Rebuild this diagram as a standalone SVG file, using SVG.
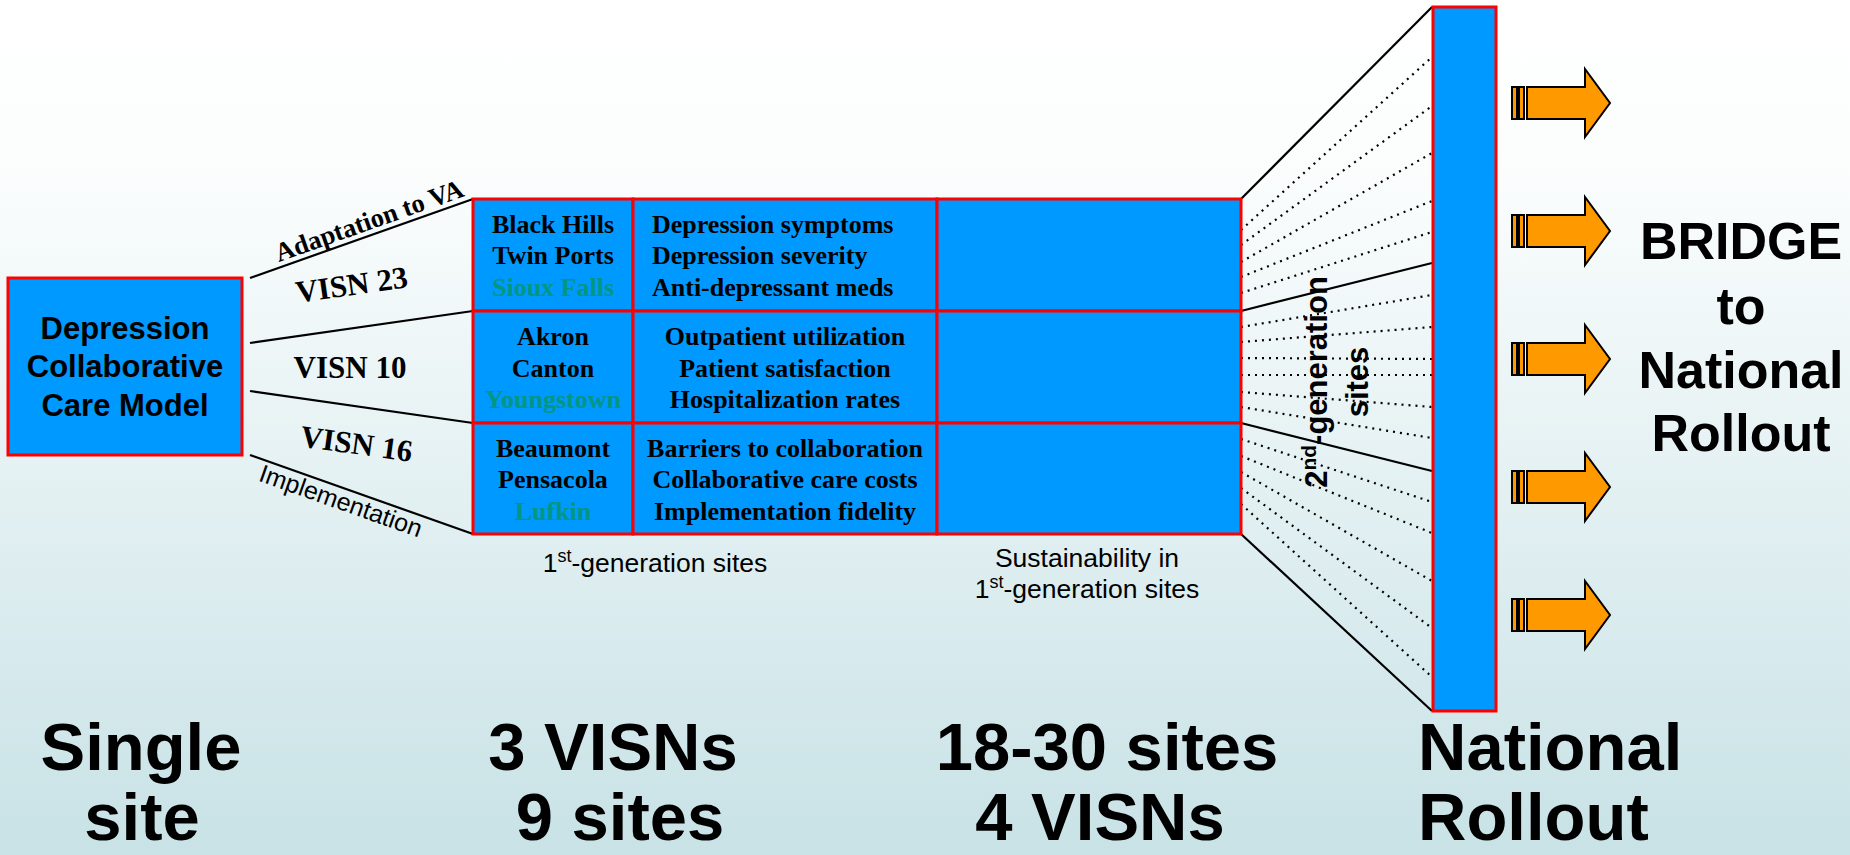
<svg xmlns="http://www.w3.org/2000/svg" width="1850" height="855" viewBox="0 0 1850 855">
<defs>
<linearGradient id="bg" x1="0" y1="0" x2="0" y2="1">
<stop offset="0" stop-color="#FFFFFF"/>
<stop offset="0.2" stop-color="#FBFDFD"/>
<stop offset="1" stop-color="#C8E2E6"/>
</linearGradient>
<style>
.box{fill:#0099FF;stroke:#FF0000;stroke-width:3}
.solid{stroke:#000;stroke-width:2.2;fill:none}
.dot{stroke:#000;stroke-width:2.2;fill:none;stroke-dasharray:2 5}
.tb{font-family:"Liberation Serif","Times New Roman",serif;font-weight:bold;fill:#000}
.cell{font-family:"Liberation Serif","Times New Roman",serif;font-weight:bold;font-size:26px;fill:#000}
.green{fill:#00967F}
.ab{font-family:"Liberation Sans",Arial,sans-serif;font-weight:bold;fill:#000}
.ar{font-family:"Liberation Sans",Arial,sans-serif;fill:#000}
.big{font-family:"Liberation Sans",Arial,sans-serif;font-weight:bold;font-size:67px;fill:#000}
.arr{fill:#FF9900;stroke:#000;stroke-width:2;stroke-linejoin:miter}
</style>
</defs>
<rect x="0" y="0" width="1850" height="855" fill="url(#bg)"/>

<g id="connectors">
<line class="solid" x1="250" y1="278" x2="473" y2="199"/>
<line class="solid" x1="250" y1="343" x2="473" y2="311"/>
<line class="solid" x1="250" y1="391" x2="473" y2="423"/>
<line class="solid" x1="250" y1="455" x2="473" y2="534"/>
<line class="solid" x1="1241" y1="199" x2="1432" y2="7"/>
<line class="solid" x1="1241" y1="311" x2="1432" y2="263"/>
<line class="solid" x1="1241" y1="423" x2="1432" y2="471"/>
<line class="solid" x1="1241" y1="534" x2="1432" y2="711"/>
<line class="dot" x1="1241" y1="230" x2="1432" y2="57"/>
<line class="dot" x1="1241" y1="245" x2="1432" y2="106"/>
<line class="dot" x1="1241" y1="262" x2="1432" y2="153"/>
<line class="dot" x1="1241" y1="277" x2="1432" y2="201"/>
<line class="dot" x1="1241" y1="293" x2="1432" y2="232"/>
<line class="dot" x1="1241" y1="327" x2="1432" y2="295"/>
<line class="dot" x1="1241" y1="342" x2="1432" y2="327"/>
<line class="dot" x1="1241" y1="358" x2="1432" y2="359"/>
<line class="dot" x1="1241" y1="375" x2="1432" y2="375"/>
<line class="dot" x1="1241" y1="392" x2="1432" y2="407"/>
<line class="dot" x1="1241" y1="407" x2="1432" y2="438"/>
<line class="dot" x1="1241" y1="439" x2="1432" y2="502"/>
<line class="dot" x1="1241" y1="456" x2="1432" y2="533"/>
<line class="dot" x1="1241" y1="472" x2="1432" y2="581"/>
<line class="dot" x1="1241" y1="488" x2="1432" y2="628"/>
<line class="dot" x1="1241" y1="504" x2="1432" y2="677"/>
</g>

<g id="connector-labels">
<text class="tb" font-size="26.5" text-anchor="middle" transform="translate(372,229) rotate(-19.5)">Adaptation to VA</text>
<text class="tb" font-size="31" text-anchor="middle" transform="translate(353,295) rotate(-8)">VISN 23</text>
<text class="tb" font-size="31" text-anchor="middle" x="350" y="378">VISN 10</text>
<text class="tb" font-size="31" text-anchor="middle" transform="translate(355,454) rotate(8)">VISN 16</text>
<text class="ar" font-size="25" text-anchor="middle" transform="translate(338,509) rotate(19.5)">Implementation</text>
</g>

<g id="model">
<rect class="box" x="8" y="278" width="234" height="177"/>
<text class="ab" font-size="31" text-anchor="middle"><tspan x="125" y="339">Depression</tspan><tspan x="125" y="377">Collaborative</tspan><tspan x="125" y="416">Care Model</tspan></text>
</g>

<g id="sites-visn23">
<rect class="box" x="473" y="199" width="160" height="112"/>
<text class="cell" text-anchor="middle"><tspan x="553" y="233">Black Hills</tspan><tspan x="553" y="264">Twin Ports</tspan><tspan class="green" x="553" y="296">Sioux Falls</tspan></text>
</g>
<g id="outcomes-visn23">
<rect class="box" x="633" y="199" width="304" height="112"/>
<text class="cell"><tspan x="652" y="233">Depression symptoms</tspan><tspan x="652" y="264">Depression severity</tspan><tspan x="652" y="296">Anti-depressant meds</tspan></text>
</g>
<g id="sustain-visn23"><rect class="box" x="937" y="199" width="304" height="112"/></g>

<g id="sites-visn10">
<rect class="box" x="473" y="311" width="160" height="112"/>
<text class="cell" text-anchor="middle"><tspan x="553" y="345">Akron</tspan><tspan x="553" y="377">Canton</tspan><tspan class="green" x="553" y="408">Youngstown</tspan></text>
</g>
<g id="outcomes-visn10">
<rect class="box" x="633" y="311" width="304" height="112"/>
<text class="cell" text-anchor="middle"><tspan x="785" y="345">Outpatient utilization</tspan><tspan x="785" y="377">Patient satisfaction</tspan><tspan x="785" y="408">Hospitalization rates</tspan></text>
</g>
<g id="sustain-visn10"><rect class="box" x="937" y="311" width="304" height="112"/></g>

<g id="sites-visn16">
<rect class="box" x="473" y="423" width="160" height="111"/>
<text class="cell" text-anchor="middle"><tspan x="553" y="457">Beaumont</tspan><tspan x="553" y="488">Pensacola</tspan><tspan class="green" x="553" y="520">Lufkin</tspan></text>
</g>
<g id="outcomes-visn16">
<rect class="box" x="633" y="423" width="304" height="111"/>
<text class="cell" text-anchor="middle"><tspan x="785" y="457">Barriers to collaboration</tspan><tspan x="785" y="488">Collaborative care costs</tspan><tspan x="785" y="520">Implementation fidelity</tspan></text>
</g>
<g id="sustain-visn16"><rect class="box" x="937" y="423" width="304" height="111"/></g>

<g id="labels-grid">
<text class="ar" font-size="26.5" text-anchor="middle" x="655" y="572">1<tspan font-size="18" dy="-10">st</tspan><tspan dy="10">-generation sites</tspan></text>
<text class="ar" font-size="26.5" text-anchor="middle" x="1087" y="567">Sustainability in</text>
<text class="ar" font-size="26.5" text-anchor="middle" x="1087" y="598">1<tspan font-size="18" dy="-10">st</tspan><tspan dy="10">-generation sites</tspan></text>
</g>

<g id="second-gen-label">
<text class="ab" font-size="31" text-anchor="middle" transform="translate(1327,382) rotate(-90)">2<tspan font-size="21" dy="-11">nd</tspan><tspan dy="11">-generation</tspan></text>
<text class="ab" font-size="31" text-anchor="middle" transform="translate(1368,382) rotate(-90)">sites</text>
</g>

<g id="national-bar">
<rect class="box" x="1433" y="7" width="63" height="704"/>
</g>

<g id="arrows">
<g id="arrow1" transform="translate(0,103)">
<rect class="arr" x="1512" y="-16" width="5" height="32"/><rect class="arr" x="1519" y="-16" width="5" height="32"/>
<polygon class="arr" points="1527,-16 1585,-16 1585,-34 1610,0 1585,34 1585,16 1527,16"/>
</g>
<g id="arrow2" transform="translate(0,231)">
<rect class="arr" x="1512" y="-16" width="5" height="32"/><rect class="arr" x="1519" y="-16" width="5" height="32"/>
<polygon class="arr" points="1527,-16 1585,-16 1585,-34 1610,0 1585,34 1585,16 1527,16"/>
</g>
<g id="arrow3" transform="translate(0,359)">
<rect class="arr" x="1512" y="-16" width="5" height="32"/><rect class="arr" x="1519" y="-16" width="5" height="32"/>
<polygon class="arr" points="1527,-16 1585,-16 1585,-34 1610,0 1585,34 1585,16 1527,16"/>
</g>
<g id="arrow4" transform="translate(0,487)">
<rect class="arr" x="1512" y="-16" width="5" height="32"/><rect class="arr" x="1519" y="-16" width="5" height="32"/>
<polygon class="arr" points="1527,-16 1585,-16 1585,-34 1610,0 1585,34 1585,16 1527,16"/>
</g>
<g id="arrow5" transform="translate(0,615)">
<rect class="arr" x="1512" y="-16" width="5" height="32"/><rect class="arr" x="1519" y="-16" width="5" height="32"/>
<polygon class="arr" points="1527,-16 1585,-16 1585,-34 1610,0 1585,34 1585,16 1527,16"/>
</g>
</g>

<g id="bridge-label">
<text class="ab" font-size="52" text-anchor="middle"><tspan x="1741" y="259">BRIDGE</tspan><tspan x="1741" y="324">to</tspan><tspan x="1741" y="388">National</tspan><tspan x="1741" y="451">Rollout</tspan></text>
</g>

<g id="stage-labels">
<text class="big" text-anchor="middle"><tspan x="141" y="770">Single</tspan><tspan x="142" y="840">site</tspan></text>
<text class="big" text-anchor="middle"><tspan x="613" y="770">3 VISNs</tspan><tspan x="620" y="840">9 sites</tspan></text>
<text class="big" text-anchor="middle"><tspan x="1107" y="770">18-30 sites</tspan><tspan x="1100" y="840">4 VISNs</tspan></text>
<text class="big"><tspan x="1418" y="770">National</tspan><tspan x="1418" y="840">Rollout</tspan></text>
</g>
</svg>
